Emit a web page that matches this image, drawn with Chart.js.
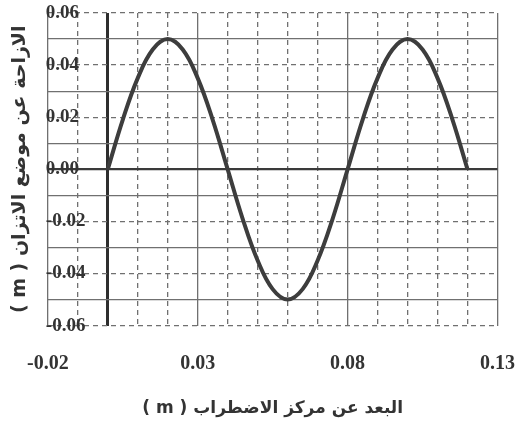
<!DOCTYPE html>
<html>
<head>
<meta charset="utf-8">
<script src="https://cdn.jsdelivr.net/npm/chart.js@4"></script>
<style>
  body { margin: 0; background: #fff; }
  #wrap { width: 518px; height: 421px; }
</style>
</head>
<body>
<div id="wrap"><canvas id="waveChart"></canvas></div>
<script>
// values (distance in m, displacement in m)
const distance = [0, 0.005, 0.01, 0.015, 0.02, 0.025, 0.03, 0.035, 0.04, 0.045, 0.05, 0.055, 0.06,
                  0.065, 0.07, 0.075, 0.08, 0.085, 0.09, 0.095, 0.1, 0.105, 0.11, 0.115, 0.12];
const displacement = [0, 0.019, 0.035, 0.046, 0.05, 0.046, 0.035, 0.019, 0, -0.019, -0.035, -0.046, -0.05,
                      -0.046, -0.035, -0.019, 0, 0.019, 0.035, 0.046, 0.05, 0.046, 0.035, 0.019, 0];
const xTickLabels = [-0.02, 0.03, 0.08, 0.13];
const yTickLabels = [0.06, 0.04, 0.02, 0.00, -0.02, -0.04, -0.06];

const xTitle = '( m ) البعد عن مركز الاضطراب';
const yTitle = '( m ) الازاحة عن موضع الاتزان';

const serif = '"Liberation Serif", "Times New Roman", serif';
const arabic = '"DejaVu Sans", sans-serif';

const hundredths = v => Math.round(v * 100);
const isXLabel = v => xTickLabels.some(t => hundredths(t) === hundredths(v));
const isYLabel = v => yTickLabels.some(t => hundredths(t) === hundredths(v));

const points = distance.map((x, i) => ({ x: x, y: displacement[i] }));

const ctx = document.getElementById('waveChart');
new Chart(ctx, {
    type: 'line',
    data: {
        datasets: [{
            data: points,
            borderColor: '#3d3d3d',
            borderWidth: 4,
            pointRadius: 0,
            tension: 0.4,
            fill: false
        }]
    },
    options: {
        responsive: true,
        maintainAspectRatio: false,
        animation: false,
        layout: { padding: { top: 13, right: 0, left: 0, bottom: 2 } },
        plugins: { legend: { display: false }, tooltip: { enabled: false } },
        scales: {
            x: {
                type: 'linear',
                min: -0.02,
                max: 0.13,
                ticks: {
                    stepSize: 0.01,
                    autoSkip: false,
                    maxRotation: 0,
                    padding: 3,
                    color: '#333',
                    font: { family: serif, size: 20, weight: 'bold' },
                    callback: v => isXLabel(v) ? v.toFixed(2) : ''
                },
                grid: {
                    drawTicks: true,
                    tickLength: 23,
                    tickColor: 'rgba(0,0,0,0)',
                    color: ctx => hundredths(ctx.tick.value) === 0 ? '#2e2e2e' : '#707070',
                    lineWidth: ctx => hundredths(ctx.tick.value) === 0 ? 3 : 1.3
                },
                border: {
                    display: false,
                    dash: ctx => (ctx.tick && !isXLabel(ctx.tick.value) && hundredths(ctx.tick.value) !== 0) ? [5, 4] : []
                },
                title: {
                    display: true,
                    text: xTitle,
                    color: '#333',
                    font: { family: arabic, size: 17, weight: 'bold' },
                    padding: { top: 20, bottom: 0 }
                }
            },
            y: {
                min: -0.06,
                max: 0.06,
                ticks: {
                    stepSize: 0.01,
                    autoSkip: false,
                    mirror: true,
                    padding: -2,
                    color: '#333',
                    font: { family: serif, size: 19, weight: 'bold' },
                    callback: v => isYLabel(v) ? v.toFixed(2) : ''
                },
                grid: {
                    drawTicks: false,
                    color: ctx => hundredths(ctx.tick.value) === 0 ? '#3a3a3a' : '#707070',
                    lineWidth: ctx => hundredths(ctx.tick.value) === 0 ? 2.2 : 1.3
                },
                border: {
                    display: false,
                    dash: ctx => (ctx.tick && isYLabel(ctx.tick.value) && hundredths(ctx.tick.value) !== 0) ? [5, 4] : []
                },
                title: {
                    display: true,
                    text: yTitle,
                    color: '#333',
                    font: { family: arabic, size: 19, weight: 'bold' },
                    padding: { top: 9, bottom: 20 }
                }
            }
        }
    }
});
</script>
</body>
</html>
